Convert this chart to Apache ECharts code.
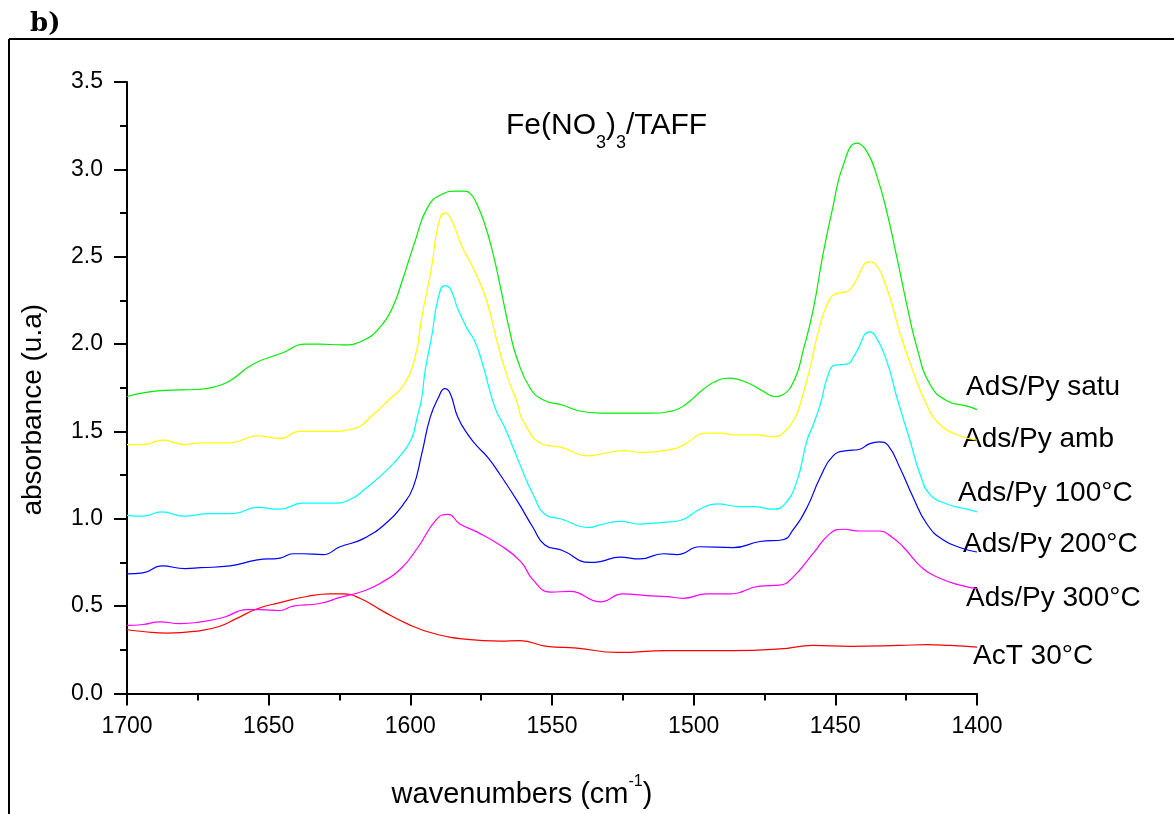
<!DOCTYPE html>
<html>
<head>
<meta charset="utf-8">
<script src="https://cdn.jsdelivr.net/npm/echarts@6/dist/echarts.min.js"></script>
<style>
html,body{margin:0;padding:0;background:#fff;}
#chart{width:1174px;height:814px;}
</style>
</head>
<body>
<div id="chart"></div>
<script>
// ---- data: [wavenumber (cm-1), absorbance] ----
const seriesNames = ['AdS/Py satu', 'Ads/Py amb', 'Ads/Py 100°C', 'Ads/Py 200°C', 'Ads/Py 300°C', 'AcT 30°C'];

const satu = [[1700,1.70],[1686.6,1.735],[1675,1.74],[1668,1.76],[1663.6,1.79],[1655.5,1.885],[1645,1.95],[1637,2.00],[1632,2.00],[1624,1.995],[1616.7,2.02],[1610,2.11],[1606,2.22],[1602.6,2.375],[1598.4,2.585],[1593.8,2.785],[1588.5,2.86],[1584,2.875],[1581,2.875],[1578.5,2.855],[1576.5,2.80],[1574,2.70],[1571,2.53],[1568,2.31],[1565,2.08],[1562.4,1.92],[1557.8,1.75],[1553,1.68],[1546,1.65],[1541,1.62],[1533,1.605],[1515.4,1.605],[1507,1.62],[1502.4,1.66],[1496.7,1.74],[1491.8,1.79],[1487.2,1.805],[1481.2,1.78],[1475.5,1.73],[1471.3,1.70],[1468.5,1.71],[1464.2,1.805],[1461.4,1.96],[1457.9,2.19],[1454.4,2.51],[1450.8,2.79],[1447.3,3.02],[1442.4,3.15],[1438.8,3.10],[1435.3,2.96],[1431.8,2.755],[1428.2,2.49],[1424.7,2.22],[1421.2,1.98],[1416.6,1.77],[1410.6,1.675],[1403.5,1.645],[1400,1.625]];

const amb = [[1700,1.425],[1694.4,1.425],[1687.3,1.45],[1679.5,1.425],[1674,1.435],[1663.6,1.435],[1654,1.475],[1646,1.46],[1639,1.50],[1629.4,1.50],[1620.2,1.515],[1613.2,1.595],[1607,1.69],[1602.6,1.76],[1598.4,1.92],[1596,2.15],[1592.4,2.45],[1590.2,2.68],[1587.8,2.75],[1586,2.73],[1581.8,2.56],[1578.9,2.47],[1576.5,2.39],[1573,2.245],[1569.4,2.015],[1566,1.825],[1562.4,1.67],[1560.2,1.56],[1553,1.425],[1547,1.41],[1537,1.36],[1533,1.37],[1525,1.39],[1518,1.38],[1507,1.40],[1503.8,1.42],[1495.3,1.49],[1490.7,1.49],[1484.7,1.48],[1477.6,1.48],[1472,1.47],[1468.5,1.49],[1464.2,1.58],[1461.8,1.69],[1459,1.86],[1455.4,2.11],[1451.9,2.26],[1449.4,2.29],[1445.9,2.30],[1443.8,2.335],[1437.8,2.47],[1436,2.46],[1431.8,2.32],[1427.3,2.07],[1422.6,1.845],[1417.7,1.65],[1413.1,1.54],[1406,1.475],[1400,1.45]];

const c100 = [[1700,1.02],[1694.4,1.015],[1687.7,1.04],[1680,1.015],[1670.7,1.03],[1662.6,1.03],[1654,1.065],[1646,1.055],[1638,1.09],[1627.3,1.09],[1621.3,1.11],[1615.3,1.18],[1608.2,1.28],[1602.6,1.38],[1599.4,1.465],[1597.6,1.58],[1596,1.69],[1594.8,1.845],[1592.4,2.05],[1590.2,2.26],[1587.8,2.335],[1586,2.32],[1583.2,2.20],[1580,2.09],[1577.2,2.015],[1574.4,1.88],[1570.1,1.635],[1566.6,1.52],[1561.3,1.31],[1556.7,1.14],[1552,1.02],[1547,1.0],[1537,0.95],[1533,0.965],[1526,0.985],[1519,0.97],[1510.8,0.98],[1504.8,0.99],[1497.8,1.055],[1491.8,1.085],[1483.7,1.07],[1479,1.07],[1472,1.055],[1467.8,1.085],[1463.5,1.22],[1460,1.45],[1458,1.53],[1455.4,1.65],[1452.6,1.82],[1450.1,1.88],[1445.9,1.885],[1443.1,1.94],[1437.8,2.07],[1436,2.05],[1431.8,1.90],[1428.2,1.69],[1423.6,1.445],[1420.1,1.255],[1416.6,1.14],[1410.6,1.085],[1403.5,1.055],[1400,1.04]];

const c200 = [[1700,0.685],[1694.4,0.69],[1687.7,0.73],[1679.5,0.715],[1674,0.72],[1663.6,0.73],[1654,0.765],[1646,0.775],[1641.4,0.80],[1638,0.80],[1630.8,0.795],[1624.8,0.84],[1616.7,0.885],[1608.2,0.98],[1602.6,1.08],[1599,1.18],[1596,1.37],[1593,1.58],[1590.2,1.69],[1587.8,1.745],[1586,1.72],[1583.2,1.58],[1579.6,1.48],[1576.1,1.41],[1572.6,1.35],[1568.4,1.255],[1562,1.095],[1556.7,0.95],[1552.5,0.85],[1546.5,0.82],[1536.6,0.75],[1533,0.755],[1526,0.78],[1519,0.77],[1510.8,0.80],[1505.9,0.795],[1497.8,0.84],[1486.1,0.835],[1476.6,0.87],[1468.5,0.88],[1465,0.935],[1460,1.065],[1455.4,1.235],[1450.8,1.36],[1445.9,1.39],[1442,1.395],[1437.8,1.43],[1434.4,1.44],[1431.4,1.42],[1427.3,1.295],[1422.6,1.125],[1417.7,0.97],[1412,0.88],[1405,0.83],[1400,0.81]];

const c300 = [[1700,0.39],[1694.4,0.395],[1688.4,0.41],[1681.3,0.40],[1674,0.41],[1666,0.435],[1657.6,0.48],[1653,0.48],[1646,0.475],[1641.4,0.50],[1632,0.515],[1624.8,0.55],[1616.7,0.585],[1610.7,0.63],[1603.6,0.71],[1597.6,0.83],[1590.6,1.00],[1586.7,1.025],[1582.5,0.97],[1576.5,0.925],[1568.4,0.85],[1561,0.755],[1556.7,0.65],[1550.5,0.58],[1543.6,0.585],[1533,0.525],[1525,0.57],[1516.5,0.56],[1509.4,0.555],[1503.8,0.545],[1495.3,0.57],[1487.2,0.57],[1476.6,0.615],[1469.6,0.62],[1465,0.665],[1457.9,0.80],[1451.9,0.915],[1447.3,0.94],[1441.3,0.93],[1434.4,0.93],[1430,0.895],[1426.1,0.84],[1419.1,0.715],[1413.1,0.66],[1406,0.62],[1400,0.60]];

const act30 = [[1700,0.365],[1694.4,0.355],[1685.9,0.345],[1674,0.36],[1667.2,0.385],[1661.2,0.43],[1654,0.485],[1646,0.52],[1636.5,0.555],[1628.4,0.57],[1623.8,0.57],[1617.8,0.545],[1609.6,0.47],[1601.2,0.40],[1592,0.345],[1580,0.31],[1568.4,0.30],[1561.3,0.303],[1551.8,0.27],[1541.2,0.26],[1527,0.235],[1509.4,0.245],[1486.1,0.245],[1469.6,0.255],[1457.9,0.275],[1444.8,0.27],[1427.3,0.275],[1417.7,0.28],[1409.5,0.275],[1400,0.265]];

const allData = [satu, amb, c100, c200, c300, act30];
const colors = ['#00ee00', '#ffff00', '#00ffff', '#0000ff', '#ff00ff', '#ff0000'];

// label positions (pixel) for the right-hand series names
const labelPos = [[966,387],[963,439],[958,493],[963,544],[966,598],[973,656]];

const FONT = 'Liberation Sans, Arial, sans-serif';

const chart = echarts.init(document.getElementById('chart'), null, {renderer: 'canvas'});

const series = allData.map((d, i) => ({
  name: seriesNames[i],
  type: 'line',
  data: d,
  smooth: 0.5,
  showSymbol: false,
  symbol: 'none',
  lineStyle: {color: colors[i], width: 1.2},
  itemStyle: {color: colors[i]},
  z: 10 - i
}));

const graphics = [
  {type: 'line', shape: {x1: 9, y1: 39, x2: 1174, y2: 39}, style: {stroke: '#000', lineWidth: 2}},
  {type: 'line', shape: {x1: 9, y1: 39, x2: 9, y2: 814}, style: {stroke: '#000', lineWidth: 2}},
  {type: 'text', x: 30, y: 24, style: {text: 'b)', fontSize: 26, fontWeight: 'bold', fontFamily: 'DejaVu Serif, Liberation Serif, serif', fill: '#000', verticalAlign: 'middle'}}
];
seriesNames.forEach((n, i) => {
  graphics.push({type: 'text', x: labelPos[i][0], y: labelPos[i][1],
    style: {text: n, fontSize: 28, fontFamily: FONT, fill: '#000', verticalAlign: 'middle', align: 'left'}});
});

chart.setOption({
  animation: false,
  backgroundColor: '#fff',
  title: {
    text: '{n|Fe(NO}{s|3}{n|)}{s|3}{n|/TAFF}',
    left: 501, top: 95,
    textStyle: {
      fontWeight: 'normal',
      rich: {
        n: {fontSize: 30, fontFamily: FONT, fontWeight: 'normal', color: '#000'},
        s: {fontSize: 18, fontFamily: FONT, fontWeight: 'normal', color: '#000', padding: [34, 0, 0, 0]}
      }
    }
  },
  grid: {left: 127, width: 850, top: 82, height: 615.5, containLabel: false},
  xAxis: {
    type: 'value', min: 1400, max: 1700, interval: 50, inverse: true,
    name: '{a|wavenumbers (cm}{b|-1}{a|)}',
    nameLocation: 'middle', nameGap: 80,
    nameTextStyle: {
      padding: [0, 60, 0, 0],
      rich: {
        a: {fontSize: 29, fontFamily: FONT, color: '#000'},
        b: {fontSize: 16, fontFamily: FONT, color: '#000', padding: [0, 0, 26, 0]}
      }
    },
    axisLine: {show: true, onZero: false, lineStyle: {color: '#000', width: 2}},
    axisTick: {show: true, inside: false, length: 12, lineStyle: {color: '#000', width: 2}},
    minorTick: {show: true, splitNumber: 2, length: 7, lineStyle: {color: '#000', width: 2}},
    axisLabel: {fontSize: 23, fontFamily: FONT, color: '#000', margin: 22, formatter: v => String(v)},
    splitLine: {show: false}
  },
  yAxis: {
    type: 'value', min: 0, max: 3.5, interval: 0.5,
    name: 'absorbance (u.a)',
    nameLocation: 'middle', nameGap: 80, nameRotate: 90,
    nameTextStyle: {fontSize: 28, fontFamily: FONT, color: '#000', padding: [0, 44, 0, 0]},
    axisLine: {show: true, onZero: false, lineStyle: {color: '#000', width: 2}},
    axisTick: {show: true, inside: false, length: 13, lineStyle: {color: '#000', width: 2}},
    minorTick: {show: true, splitNumber: 2, length: 7, lineStyle: {color: '#000', width: 2}},
    axisLabel: {fontSize: 23, fontFamily: FONT, color: '#000', margin: 24, formatter: v => v.toFixed(1)},
    splitLine: {show: false}
  },
  graphic: graphics,
  series: series
});
</script>
</body>
</html>
